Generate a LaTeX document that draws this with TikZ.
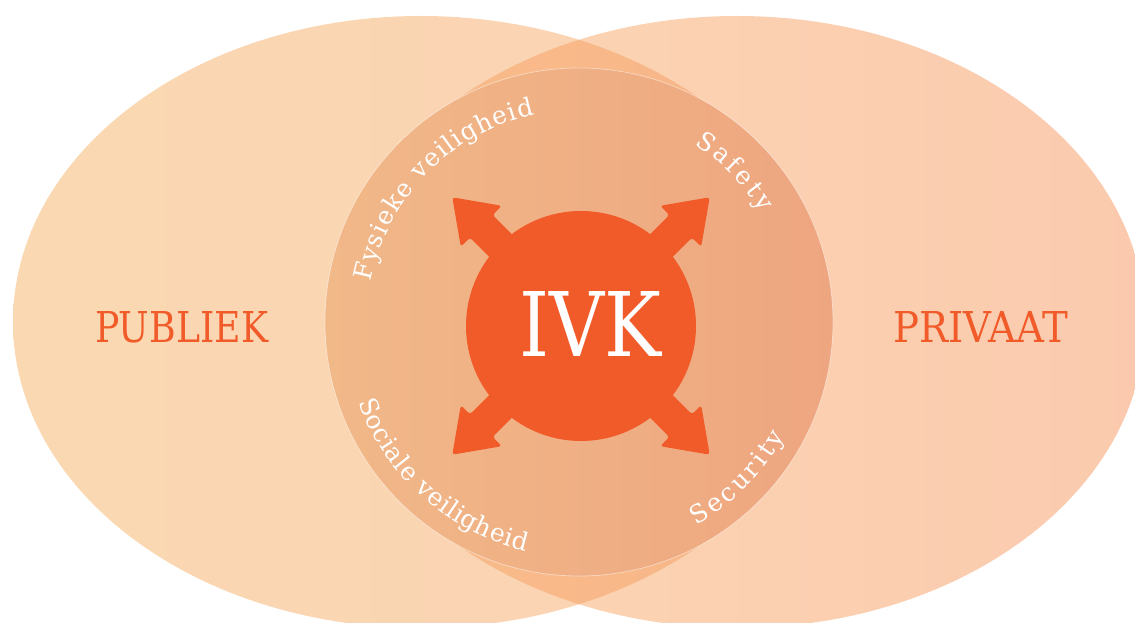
\documentclass[tikz,border=0pt]{standalone}
\usepackage{fontspec}
\usepackage{graphicx}
\setmainfont{DejaVu Serif}
\usetikzlibrary{decorations.text}
\definecolor{ivk}{HTML}{F15A29}
\definecolor{lellL}{HTML}{FAD9B2}
\definecolor{lellR}{HTML}{FBD1B3}
\definecolor{rellL}{HTML}{FBD7B4}
\definecolor{rellR}{HTML}{FBCAAE}
\definecolor{lensL}{HTML}{F9BD8D}
\definecolor{lensR}{HTML}{F8B485}
\definecolor{midL}{HTML}{F1B888}
\definecolor{midR}{HTML}{EEA680}
\begin{document}
\begin{tikzpicture}[x=1pt,y=1pt,
  bigell/.style={x radius=408pt, y radius=306pt},
  ivkarrow/.style={fill=ivk, rounded corners=3pt},
  sidelabel/.style={anchor=south west, inner sep=0pt, text=ivk},
  arclabel/.style={decorate, decoration={text along path, text color=white, text align={fit to path}}}]
\useasboundingbox (0,0) rectangle (1135,623);
\coordinate (lc) at (421,301);
\coordinate (rc) at (737,301);
\coordinate (mc) at (579,301);
\coordinate (ic) at (581,297);
% two big ellipses
\shade[left color=lellL, right color=lellR] (lc) ellipse [bigell];
\shade[left color=rellL, right color=rellR] (rc) ellipse [bigell];
% overlap lens
\begin{scope}
  \clip (lc) ellipse [bigell];
  \clip (rc) ellipse [bigell];
  \shade[left color=lensL, right color=lensR] (329,0) rectangle (829,623);
\end{scope}
% middle circle
\shade[left color=midL, right color=midR] (mc) circle [radius=254pt];
\draw[white, opacity=0.45, line width=0.8pt] (mc) circle [radius=254pt];
% arrows
\foreach \a in {45,135,225,315}{
  \fill[ivkarrow, shift={(ic)}, rotate=\a]
    (0,16) -- (141,16) -- (141,29) -- (182,0) -- (141,-29) -- (141,-16) -- (0,-16) -- cycle;
}
% inner circle
\fill[ivk] (ic) circle [radius=115pt];
\node[anchor=south west, inner sep=0pt, text=white] (ivklabel) at (519,266) {\resizebox{142pt}{65pt}{IVK}};
% side labels
\node[sidelabel] (publiek) at (95,280) {\resizebox{173pt}{31pt}{PUBLIEK}};
\node[sidelabel] (privaat) at (893,280) {\resizebox{175pt}{31pt}{PRIVAAT}};
% curved labels
\path[arclabel, decoration={text={|\fontsize{25}{25}\selectfont|Fysieke veiligheid}}]
  ([shift={(169:212pt)}]mc) arc [start angle=169, end angle=102, radius=212pt];
\path[arclabel, decoration={text={|\fontsize{25}{25}\selectfont|Safety}}]
  ([shift={(57:212pt)}]mc) arc [start angle=57, end angle=31, radius=212pt];
\path[arclabel, decoration={text={|\fontsize{25}{25}\selectfont|Sociale veiligheid}}]
  ([shift={(200:235pt)}]mc) arc [start angle=200, end angle=257, radius=235pt];
\path[arclabel, decoration={text={|\fontsize{25}{25}\selectfont|Security}}]
  ([shift={(300:235pt)}]mc) arc [start angle=300, end angle=331, radius=235pt];
\end{tikzpicture}
\end{document}
